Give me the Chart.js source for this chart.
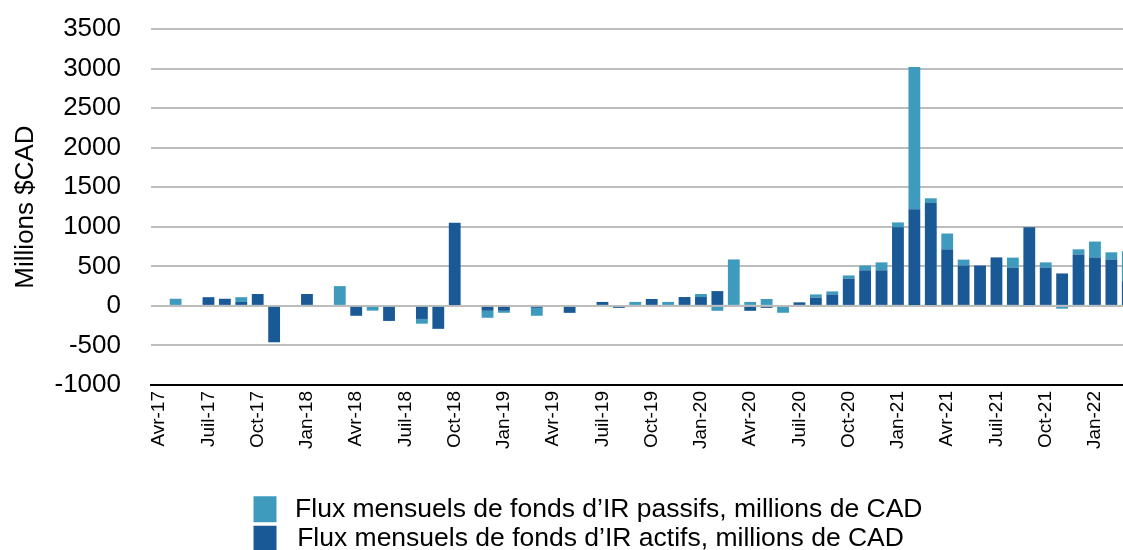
<!DOCTYPE html>
<html>
<head>
<meta charset="utf-8">
<script src="https://cdn.jsdelivr.net/npm/chart.js@4.4.1/dist/chart.umd.min.js"></script>
<style>
  html, body { margin: 0; padding: 0; background: #fff; overflow: hidden; }
  #c { display: block; }
</style>
</head>
<body>
<canvas id="c" width="1123" height="550"></canvas>
<script>
const months = [
  "Avr-17","Mai-17","Juin-17","Juil-17","Août-17","Sep-17","Oct-17","Nov-17","Déc-17",
  "Jan-18","Fév-18","Mar-18","Avr-18","Mai-18","Juin-18","Juil-18","Août-18","Sep-18","Oct-18","Nov-18","Déc-18",
  "Jan-19","Fév-19","Mar-19","Avr-19","Mai-19","Juin-19","Juil-19","Août-19","Sep-19","Oct-19","Nov-19","Déc-19",
  "Jan-20","Fév-20","Mar-20","Avr-20","Mai-20","Juin-20","Juil-20","Août-20","Sep-20","Oct-20","Nov-20","Déc-20",
  "Jan-21","Fév-21","Mar-21","Avr-21","Mai-21","Juin-21","Juil-21","Août-21","Sep-21","Oct-21","Nov-21","Déc-21",
  "Jan-22","Fév-22","Mar-22"
];
const activeFlows = [
  0, 0, 0, 110, 90, 50, 150, -460, 0,
  150, 0, 0, -125, 0, -190, 0, -165, -290, 1050, 0, -62,
  -62, 0, -25, 0, -88, 0, 50, -25, 0, 87, 0, 112,
  112, 187, 0, -62, -25, 0, 45, 105, 145, 345, 450, 450,
  995, 1220, 1300, 715, 510, 510, 613, 485, 993, 485, 410, 650,
  613, 587, 310
];
const passiveFlows = [
  0, 90, 0, 0, 0, 60, 0, 0, 0,
  0, 0, 250, 0, -60, 0, 0, -60, 0, 0, 0, -88,
  -25, 0, -100, 0, 0, 0, 0, 0, 50, 0, 50, 0,
  38, -62, 587, 50, 87, -87, 0, 40, 38, 40, 60, 100,
  60, 1800, 60, 200, 75, 0, 0, 125, 0, 65, -35, 65,
  200, 90, 380
];
const yTicks = { min: -1000, max: 3500, step: 500 };
const seriesNames = [
  "Flux mensuels de fonds d\u2019IR actifs, millions de CAD",
  "Flux mensuels de fonds d\u2019IR passifs, millions de CAD"
];
const yTitle = "Millions $CAD";

const FONT = "'Liberation Sans', Arial, sans-serif";

// The reference plot runs past the right edge of the picture (last bar clipped).
const PLOT_RIGHT = 1136;

const layoutTweaks = {
  id: 'layoutTweaks',
  afterLayout(chart) {
    if (chart.legend) {
      chart.legend.left += 16;
      chart.legend.right += 16;
    }
    const x = chart.scales.x;
    const extra = PLOT_RIGHT - chart.chartArea.right;
    if (extra > 0) {
      chart.chartArea.right += extra;
      chart.chartArea.width += extra;
      x.right += extra;
      x.width += extra;
      x.configure();
    }
  }
};

new Chart(document.getElementById('c'), {
  type: 'bar',
  data: {
    labels: months,
    datasets: [
      { label: seriesNames[0], data: activeFlows, backgroundColor: '#195996', borderWidth: 0,
        barPercentage: 0.72, categoryPercentage: 1.0 },
      { label: seriesNames[1], data: passiveFlows, backgroundColor: '#3E9BBE', borderWidth: 0,
        barPercentage: 0.72, categoryPercentage: 1.0 }
    ]
  },
  plugins: [layoutTweaks],
  options: {
    responsive: false,
    animation: false,
    layout: { autoPadding: false, padding: { top: 29, left: 8, right: -13, bottom: -12 } },
    plugins: {
      tooltip: { enabled: false },
      legend: {
        position: 'bottom',
        reverse: true,
        labels: {
          boxWidth: 23,
          boxHeight: 26,
          padding: 3,
          color: '#000',
          font: { family: FONT, size: 26.5 },
          generateLabels: (chart) => {
            const items = Chart.defaults.plugins.legend.labels.generateLabels(chart);
            items.forEach(it => {
              it.text = it.datasetIndex === 0
                ? ' ' + it.text + '\u2002\u2009'
                : '\u2009' + it.text;
            });
            return items;
          }
        }
      }
    },
    scales: {
      x: {
        stacked: true,
        grid: { display: false, drawTicks: false },
        border: { display: true, color: '#000', width: 2 },
        ticks: {
          autoSkip: false,
          maxRotation: 90,
          minRotation: 90,
          padding: 6,
          color: '#000',
          font: { family: FONT, size: 19 },
          callback: (v, i) => (i % 3 === 0 ? months[i] : '')
        },
        afterFit: (scale) => { scale.height = 108; }
      },
      y: {
        stacked: true,
        min: yTicks.min,
        max: yTicks.max,
        grid: { color: '#BDBDBD', lineWidth: 2, drawTicks: true, tickLength: 28, tickColor: 'rgba(0,0,0,0)' },
        border: { display: false },
        ticks: {
          stepSize: yTicks.step,
          padding: 2,
          color: '#000',
          font: { family: FONT, size: 26 },
          callback: (v) => String(v)
        },
        title: {
          display: true,
          text: yTitle,
          color: '#000',
          font: { family: FONT, size: 26 },
          padding: { top: 2, bottom: 0 }
        },
        afterFit: (scale) => { scale.width = 143; }
      }
    }
  }
});
</script>
</body>
</html>
